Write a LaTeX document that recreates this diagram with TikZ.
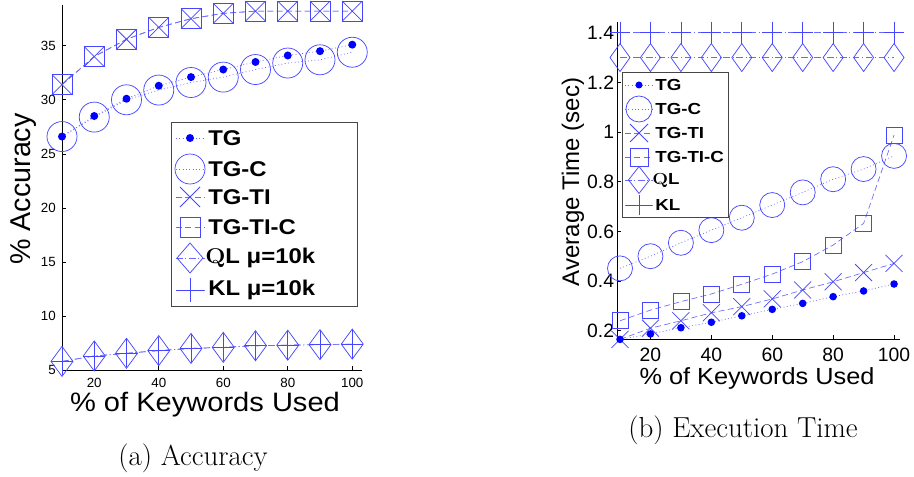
\documentclass[tikz,border=0pt]{standalone}
\usepackage{fontspec}
\setsansfont{Liberation Sans}
\definecolor{mkblue}{RGB}{70,70,255}
\definecolor{lnblue}{RGB}{105,105,255}
\definecolor{boxgray}{RGB}{70,70,70}
\tikzset{
  mk/.style={draw=mkblue, line width=0.55pt},
  ln/.style={draw=lnblue, line width=0.5pt},
  dotln/.style={ln, dash pattern=on 0.7pt off 1.8pt},
  dashln/.style={ln, dash pattern=on 4.5pt off 2.5pt},
  dashdotln/.style={ln, dash pattern=on 5pt off 2pt on 0.7pt off 2pt},
  axisln/.style={draw=black, line width=0.5pt},
  tickA/.style={font=\sffamily\fontsize{10}{12}\selectfont, inner sep=0pt},
  tickB/.style={font=\sffamily\fontsize{14.5}{17}\selectfont, inner sep=0pt},
  lgA/.style={font=\sffamily\bfseries\fontsize{16}{19}\selectfont, inner sep=0pt, anchor=west, xscale=1.12},
  lgB/.style={font=\sffamily\bfseries\fontsize{12}{14}\selectfont, inner sep=0pt, anchor=west, xscale=1.17},
  captext/.style={font=\fontsize{21.7}{26}\selectfont, inner sep=0pt},
  pics/dotm/.style={code={\fill[blue] (0,0) circle[radius=#1];}},
  pics/circm/.style={code={\draw[mk] (0,0) circle[radius=#1];}},
  pics/crossm/.style={code={\draw[mk] (-#1,-#1)--(#1,#1) (-#1,#1)--(#1,-#1);}},
  pics/sqm/.style={code={\draw[mk] (-#1,-#1) rectangle (#1,#1);}},
  pics/dmdm/.style 2 args={code={\draw[mk] (-#1,0)--(0,-#2)--(#1,0)--(0,#2)--cycle;}},
  pics/plusm/.style 2 args={code={\draw[mk] (-#1,0)--(#1,0) (0,-#2)--(0,#2);}},
}
\newcommand\QLq{{\rmfamily\bfseries Q}}
\begin{document}
\begin{tikzpicture}[x=0.75pt,y=-0.75pt]
\useasboundingbox (0,0) rectangle (914,477);

% ================= (a) Accuracy =================
% axes
\coordinate (aO) at (62,370);
\coordinate (aTop) at (62,5);
\coordinate (aRight) at (362,370);
\draw[axisln] (aTop) -- (aO) -- (aRight);
\foreach \v in {5,10,...,35}{
  \coordinate (ayk\v) at (62,{316+(10-\v)*10.81});
  \draw[axisln] (ayk\v) -- ++(4,0);
  \node[tickA, anchor=east] (ayl\v) at ([xshift=-4.5pt]ayk\v) {\v};
}
\foreach \v in {20,40,...,100}{
  \coordinate (axk\v) at ({62+(\v-10)*3.225},370);
  \draw[axisln] (axk\v) -- ++(0,-4);
  \node[tickA] (axl\v) at ({62+(\v-10)*3.225},383) {\v};
}
\node[font=\sffamily\fontsize{20}{24}\selectfont, inner sep=0pt, xscale=1.09] (axlab) at (205,405) {\% of Keywords Used};
\node[font=\sffamily\fontsize{21.5}{25}\selectfont, inner sep=0pt, rotate=90] (aylab) at (24,189) {\% Accuracy};
\node[captext] (acap) at (193,458) {(a) Accuracy};

% data points
\foreach \v [count=\i] in {26.6,28.5,30.1,31.3,32.1,32.8,33.5,34.1,34.5,35.1}
  \coordinate (aTG\i) at ({62+(\i-1)*32.25},{316+(10-\v)*10.81});
\foreach \v [count=\i] in {26.6,28.4,30.0,30.9,31.6,32.1,32.8,33.4,33.7,34.4}
  \coordinate (aTC\i) at ({62+(\i-1)*32.25},{316+(10-\v)*10.81});
\foreach \v [count=\i] in {31.4,34.0,35.6,36.7,37.5,38.0,38.2,38.2,38.2,38.2}
  \coordinate (aTI\i) at ({62+(\i-1)*32.25},{316+(10-\v)*10.81});
\foreach \v [count=\i] in {31.4,34.0,35.6,36.7,37.5,38.0,38.2,38.2,38.2,38.2}
  \coordinate (aTIC\i) at ({62+(\i-1)*32.25},{316+(10-\v)*10.81});
\foreach \v [count=\i] in {5.8,6.3,6.55,6.8,7.0,7.1,7.25,7.3,7.35,7.4}
  \coordinate (aQL\i) at ({62+(\i-1)*32.25},{316+(10-\v)*10.81});
\foreach \v [count=\i] in {5.8,6.3,6.55,6.8,7.0,7.1,7.25,7.3,7.35,7.4}
  \coordinate (aKL\i) at ({62+(\i-1)*32.25},{316+(10-\v)*10.81});

% series lines
\draw[dotln] (aTG1) \foreach \i in {2,...,10}{ -- (aTG\i)};
\draw[dotln] (aTC1) \foreach \i in {2,...,10}{ -- (aTC\i)};
\draw[dashln] (aTI1) \foreach \i in {2,...,10}{ -- (aTI\i)};
\draw[dashln] (aTIC1) \foreach \i in {2,...,10}{ -- (aTIC\i)};
\draw[dashdotln] (aQL1) \foreach \i in {2,...,10}{ -- (aQL\i)};
\draw[dashdotln] (aKL1) \foreach \i in {2,...,10}{ -- (aKL\i)};

% markers
\foreach \i in {1,...,10}{
  \pic at (aTC\i) {circm=15};
  \pic at (aTI\i) {crossm=10};
  \pic at (aTIC\i) {sqm=10};
  \pic at (aQL\i) {dmdm={11}{15}};
  \pic at (aKL\i) {plusm={11}{14}};
  \pic at (aTG\i) {dotm=4};
}

% legend
\node[draw=boxgray, line width=0.5pt, fill=white, inner sep=0pt, minimum width=139.5pt, minimum height=138.2pt, anchor=north west] (aleg) at (170.7,121.7) {};
\foreach \y [count=\k] in {138,169,197,227,258,290}{
  \coordinate (alm\k) at (190,\y);
  \coordinate (all\k) at (176,\y);
  \coordinate (alr\k) at (205,\y);
}
\draw[dotln] (all1) -- (alr1);
\draw[dotln] (all2) -- (alr2);
\draw[dashln] (all3) -- (alr3);
\draw[dashln] (all4) -- (alr4);
\draw[dashdotln] (all5) -- (alr5);
\draw[dashdotln] (all6) -- (alr6);
\pic at (alm1) {dotm=4};
\pic at (alm2) {circm=15};
\pic at (alm3) {crossm=10};
\pic at (alm4) {sqm=10};
\pic at (alm5) {dmdm={13}{15}};
\pic at (alm6) {plusm={14}{12}};
\node[lgA] (alt1) at (208,138) {TG};
\node[lgA] (alt2) at (208,169) {TG-C};
\node[lgA] (alt3) at (208,197) {TG-TI};
\node[lgA] (alt4) at (208,227) {TG-TI-C};
\node[lgA] (alt5) at (205,258) {\QLq L μ=10k};
\node[lgA] (alt6) at (208,290) {KL μ=10k};

% ================= (b) Execution Time =================
\coordinate (bO) at (617,339);
\coordinate (bTop) at (617,22);
\coordinate (bRight) at (900,339);
\draw[axisln] (bTop) -- (bO) -- (bRight);
\foreach \v [count=\k] in {0.2,0.4,0.6,0.8,1,1.2,1.4}{
  \coordinate (byk\k) at (617,{330.7-(\v-0.2)*248.3});
  \draw[axisln] (byk\k) -- ++(4,0);
  \node[tickB, anchor=east] (byl\k) at ([xshift=-2pt]byk\k) {\v};
}
\foreach \v in {20,40,...,100}{
  \coordinate (bxk\v) at ({620+(\v-10)*3.045},339);
  \draw[axisln] (bxk\v) -- ++(0,-4);
  \node[tickB] (bxl\v) at ({620+(\v-10)*3.045},355) {\v};
}
\node[font=\sffamily\fontsize{17.5}{21}\selectfont, inner sep=0pt, xscale=1.085] (bxlab) at (757,378) {\% of Keywords Used};
\node[font=\sffamily\fontsize{18}{22}\selectfont, inner sep=0pt, rotate=90] (bylab) at (573,182) {Average Time (sec)};
\node[captext] (bcap) at (743,430) {(b) Execution Time};

% data points
\foreach \v [count=\i] in {0.165,0.187,0.212,0.234,0.26,0.286,0.31,0.337,0.36,0.388}
  \coordinate (bTG\i) at ({620+(\i-1)*30.45},{330.7-(\v-0.2)*248.3});
\foreach \v [count=\i] in {0.451,0.50,0.554,0.605,0.655,0.706,0.757,0.81,0.851,0.904}
  \coordinate (bTC\i) at ({620+(\i-1)*30.45},{330.7-(\v-0.2)*248.3});
\foreach \v [count=\i] in {0.165,0.21,0.24,0.272,0.297,0.328,0.364,0.397,0.434,0.471}
  \coordinate (bTI\i) at ({620+(\i-1)*30.45},{330.7-(\v-0.2)*248.3});
\foreach \v [count=\i] in {0.24,0.283,0.317,0.348,0.387,0.428,0.478,0.545,0.632,0.988}
  \coordinate (bTIC\i) at ({620+(\i-1)*30.45},{330.7-(\v-0.2)*248.3});
\foreach \i in {1,...,10}{
  \coordinate (bQL\i) at ({620+(\i-1)*30.45},{330.7-(1.3-0.2)*248.3});
  \coordinate (bKL\i) at ({620+(\i-1)*30.45},{330.7-(1.4-0.2)*248.3});
}

% series lines
\draw[dotln] (bTG1) \foreach \i in {2,...,10}{ -- (bTG\i)};
\draw[dotln] (bTC1) \foreach \i in {2,...,10}{ -- (bTC\i)};
\draw[dashln] (bTI1) \foreach \i in {2,...,10}{ -- (bTI\i)};
\draw[dashln] (bTIC1) \foreach \i in {2,...,10}{ -- (bTIC\i)};
\draw[dashdotln] (bQL1) \foreach \i in {2,...,10}{ -- (bQL\i)};
\draw[dashdotln] (bKL1) \foreach \i in {2,...,10}{ -- (bKL\i)};

% markers
\foreach \i in {1,...,10}{
  \pic at (bTC\i) {circm=12.5};
  \pic at (bTI\i) {crossm=8.5};
  \pic at (bTIC\i) {sqm=8};
  \pic at (bQL\i) {dmdm={10}{14}};
  \pic at (bKL\i) {plusm={10}{11}};
  \pic at (bTG\i) {dotm=3.8};
}

% legend
\node[draw=boxgray, line width=0.5pt, fill=white, inner sep=0pt, minimum width=80pt, minimum height=108.7pt, anchor=north west] (bleg) at (621.7,71.7) {};
\foreach \y [count=\k] in {85,109,133,157,180,205}{
  \coordinate (blm\k) at (639,\y);
  \coordinate (bll\k) at (625,\y);
  \coordinate (blr\k) at (653,\y);
}
\draw[dotln] (bll1) -- (blr1);
\draw[dotln] (bll2) -- (blr2);
\draw[dashln] (bll3) -- (blr3);
\draw[dashln] (bll4) -- (blr4);
\draw[dashdotln] (bll5) -- (blr5);
\draw[dashdotln] (bll6) -- (blr6);
\pic at (blm1) {dotm=3.5};
\pic at (blm2) {circm=13};
\pic at (blm3) {crossm=9};
\pic at (blm4) {sqm=9};
\pic at (blm5) {dmdm={10.5}{13.5}};
\pic at (blm6) {plusm={13}{10}};
\node[lgB] (blt1) at (655,85) {TG};
\node[lgB] (blt2) at (655,109) {TG-C};
\node[lgB] (blt3) at (655,133) {TG-TI};
\node[lgB] (blt4) at (655,157) {TG-TI-C};
\node[lgB] (blt5) at (652,180) {\QLq L};
\node[lgB] (blt6) at (655,205) {KL};
\end{tikzpicture}
\end{document}
